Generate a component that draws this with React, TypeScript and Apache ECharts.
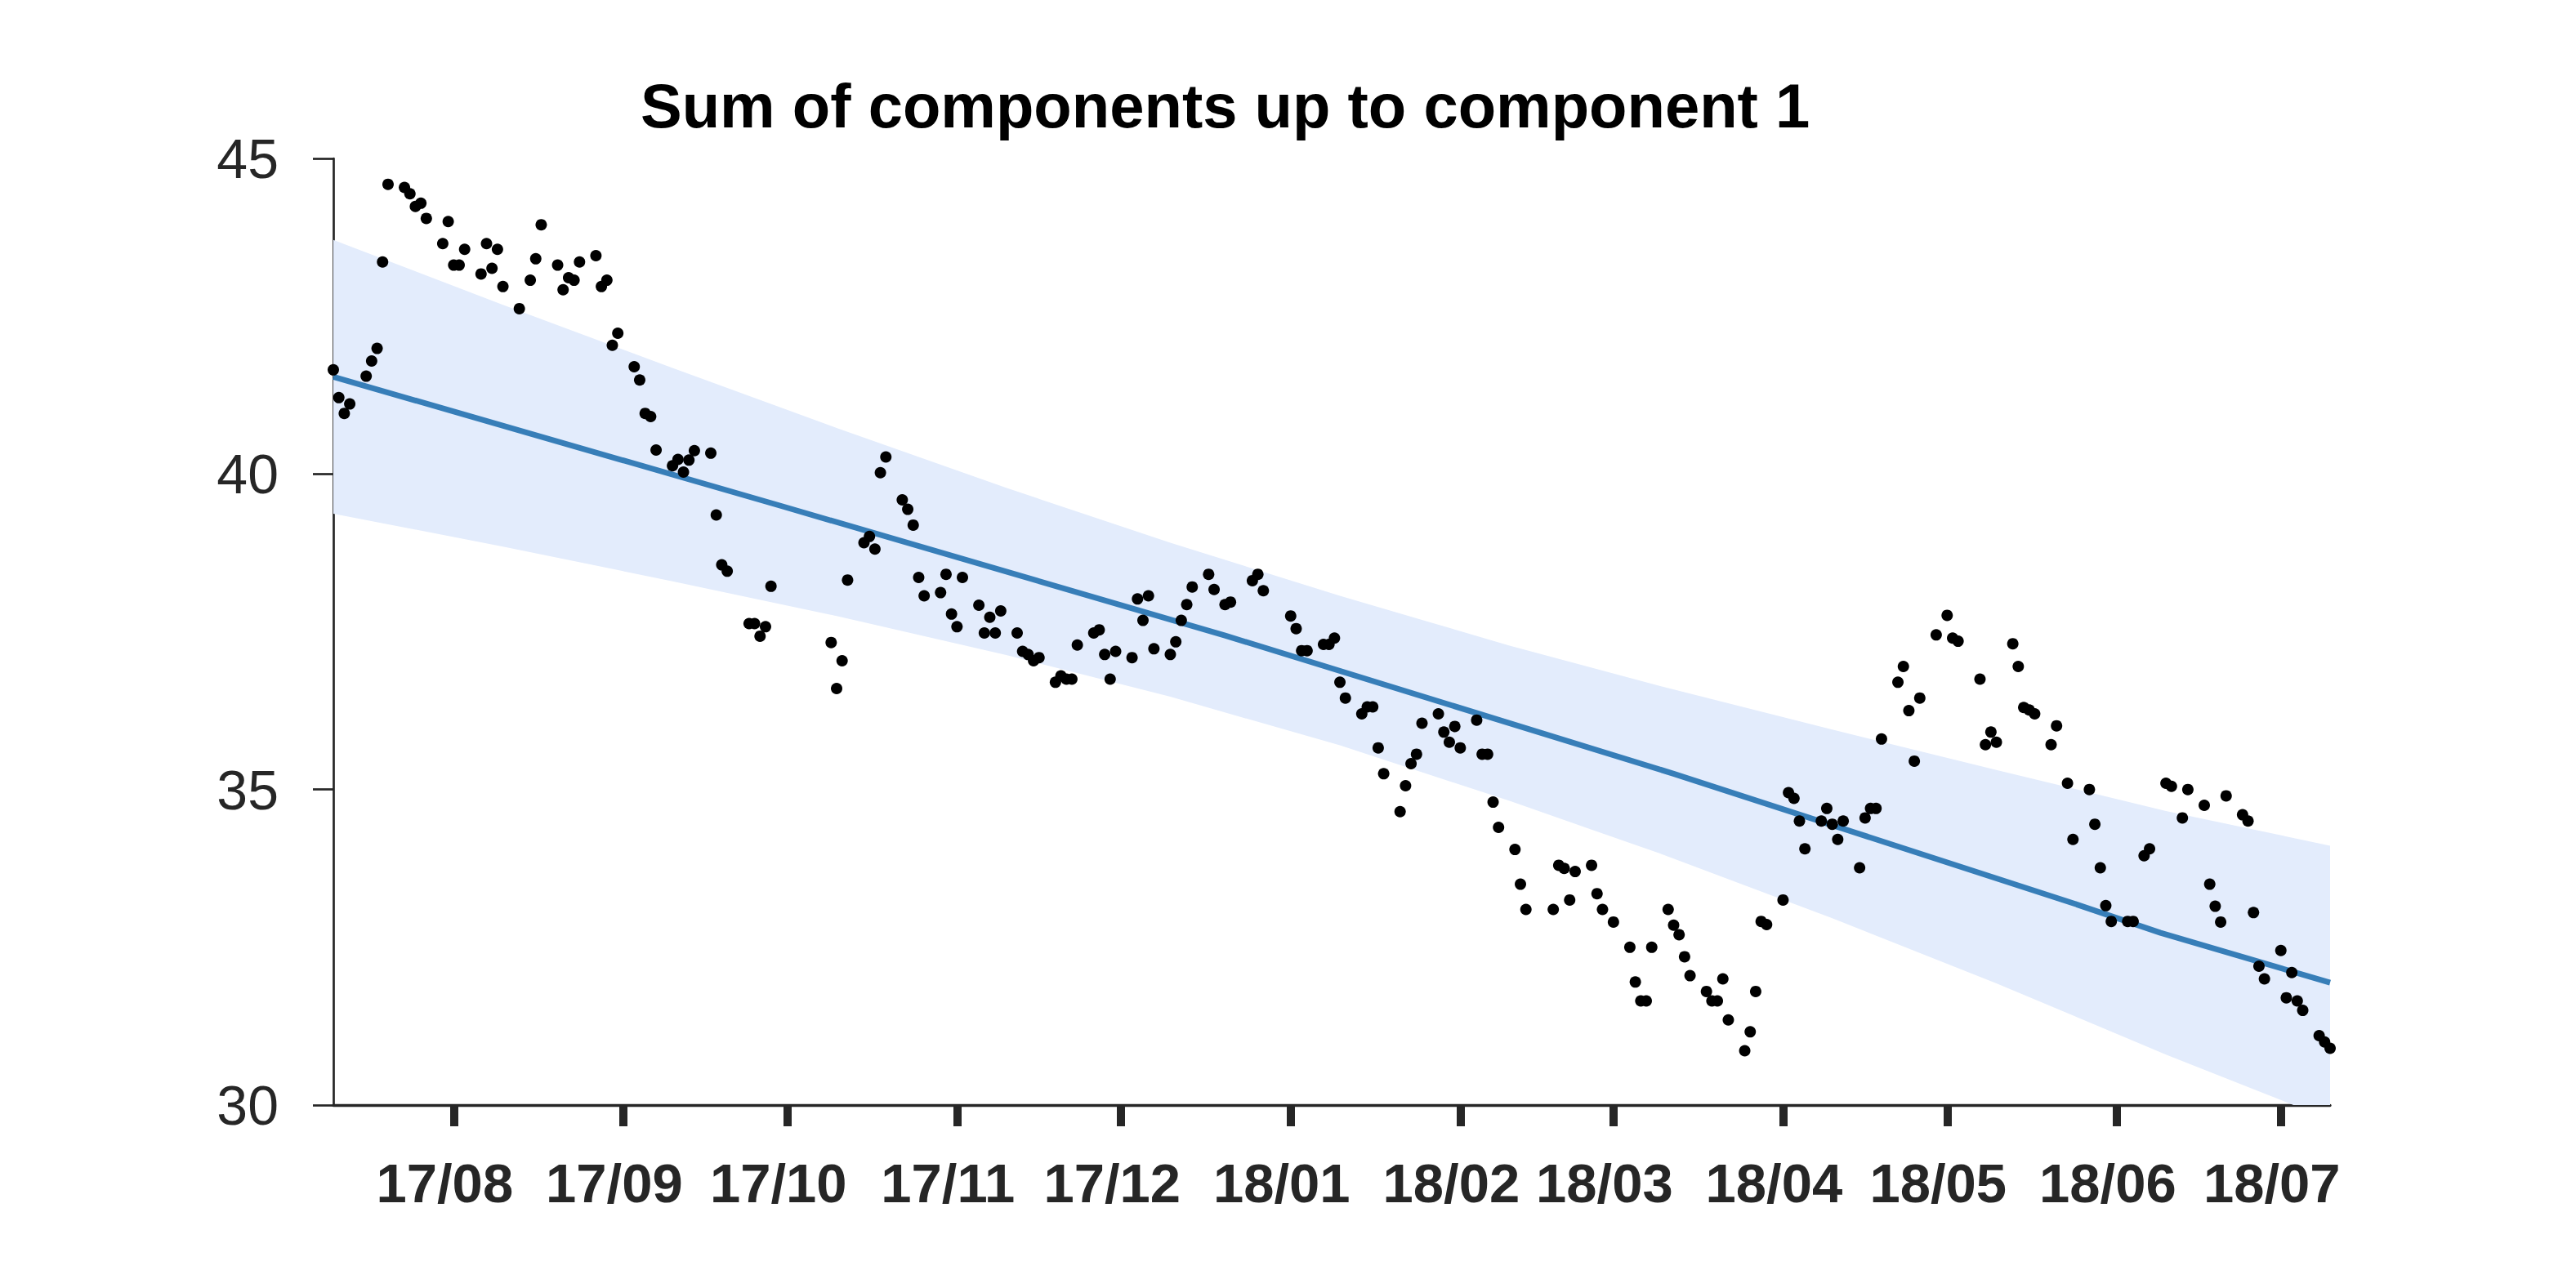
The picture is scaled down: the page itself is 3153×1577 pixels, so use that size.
import React, { useEffect, useRef } from 'react';
import * as echarts from 'echarts';

const chartTitle = 'Sum of components up to component 1';

const dates = [
  '2017-07-10','2017-07-11','2017-07-12','2017-07-13','2017-07-16','2017-07-17','2017-07-18','2017-07-19','2017-07-20',
  '2017-07-23','2017-07-24','2017-07-25','2017-07-26','2017-07-27','2017-07-30','2017-07-31','2017-08-01','2017-08-02','2017-08-03',
  '2017-08-06','2017-08-07','2017-08-08','2017-08-09','2017-08-10','2017-08-13','2017-08-15','2017-08-16','2017-08-17',
  '2017-08-20','2017-08-21','2017-08-22','2017-08-23','2017-08-24','2017-08-27','2017-08-28','2017-08-29','2017-08-30','2017-08-31',
  '2017-09-03','2017-09-04','2017-09-05','2017-09-06','2017-09-07','2017-09-10','2017-09-11','2017-09-12','2017-09-13','2017-09-14',
  '2017-09-17','2017-09-18','2017-09-19','2017-09-20','2017-09-24','2017-09-25','2017-09-26','2017-09-27','2017-09-28',
  '2017-10-09','2017-10-10','2017-10-11','2017-10-12','2017-10-15','2017-10-16','2017-10-17','2017-10-18','2017-10-19',
  '2017-10-22','2017-10-23','2017-10-24','2017-10-25','2017-10-26','2017-10-29','2017-10-30','2017-10-31','2017-11-01','2017-11-02',
  '2017-11-05','2017-11-06','2017-11-07','2017-11-08','2017-11-09','2017-11-12','2017-11-13','2017-11-14','2017-11-15','2017-11-16',
  '2017-11-19','2017-11-20','2017-11-21','2017-11-22','2017-11-23','2017-11-26','2017-11-27','2017-11-28','2017-11-29','2017-11-30',
  '2017-12-03','2017-12-04','2017-12-05','2017-12-06','2017-12-07','2017-12-10','2017-12-11','2017-12-12','2017-12-13','2017-12-14',
  '2017-12-17','2017-12-18','2017-12-20','2017-12-21','2017-12-25','2017-12-26','2017-12-27',
  '2018-01-01','2018-01-02','2018-01-03','2018-01-04','2018-01-07','2018-01-08','2018-01-09','2018-01-10','2018-01-11',
  '2018-01-14','2018-01-15','2018-01-16','2018-01-17','2018-01-18','2018-01-21','2018-01-22','2018-01-23','2018-01-24','2018-01-25',
  '2018-01-28','2018-01-29','2018-01-30','2018-01-31','2018-02-01','2018-02-04','2018-02-05','2018-02-06','2018-02-07','2018-02-08',
  '2018-02-11','2018-02-12','2018-02-13','2018-02-18','2018-02-19','2018-02-20','2018-02-21','2018-02-22',
  '2018-02-25','2018-02-26','2018-02-27','2018-03-01','2018-03-04','2018-03-05','2018-03-06','2018-03-07','2018-03-08',
  '2018-03-11','2018-03-12','2018-03-13','2018-03-14','2018-03-15','2018-03-18','2018-03-19','2018-03-20','2018-03-21','2018-03-22',
  '2018-03-25','2018-03-26','2018-03-27','2018-03-28','2018-03-29','2018-04-01','2018-04-02','2018-04-03','2018-04-04','2018-04-05',
  '2018-04-08','2018-04-09','2018-04-10','2018-04-11','2018-04-12','2018-04-15','2018-04-16','2018-04-17','2018-04-18','2018-04-19',
  '2018-04-22','2018-04-23','2018-04-24','2018-04-25','2018-04-26','2018-04-29','2018-05-01','2018-05-02','2018-05-03',
  '2018-05-07','2018-05-08','2018-05-09','2018-05-10','2018-05-13','2018-05-14','2018-05-15','2018-05-16','2018-05-17',
  '2018-05-20','2018-05-21','2018-05-23','2018-05-24','2018-05-27','2018-05-28','2018-05-29','2018-05-30','2018-05-31',
  '2018-06-03','2018-06-04','2018-06-06','2018-06-07','2018-06-10','2018-06-11','2018-06-13','2018-06-14',
  '2018-06-17','2018-06-18','2018-06-19','2018-06-20','2018-06-21','2018-06-24','2018-06-25','2018-06-26','2018-06-27','2018-06-28',
  '2018-07-01','2018-07-02','2018-07-03','2018-07-04','2018-07-05','2018-07-08','2018-07-09','2018-07-10',
];

const values = [
  41.65,41.21,40.96,41.11,41.55,41.79,41.99,43.36,44.59,
  44.54,44.44,44.24,44.29,44.05,43.65,44.00,43.31,43.31,43.56,
  43.17,43.65,43.26,43.56,42.97,42.62,43.07,43.41,43.95,
  43.31,42.92,43.11,43.07,43.36,43.46,42.97,43.07,42.04,42.23,
  41.70,41.49,40.96,40.91,40.38,40.13,40.23,40.03,40.22,40.37,
  40.33,39.35,38.56,38.46,37.63,37.63,37.43,37.58,38.22,
  37.33,36.60,37.04,38.32,38.91,39.01,38.81,40.02,40.27,
  39.59,39.44,39.19,38.36,38.07,38.12,38.41,37.78,37.58,38.36,
  37.92,37.48,37.73,37.48,37.83,37.48,37.19,37.14,37.04,37.09,
  36.70,36.80,36.75,36.75,37.29,37.48,37.53,37.14,36.75,37.19,
  37.09,38.02,37.68,38.07,37.23,37.14,37.34,37.68,37.93,38.21,
  38.41,38.17,37.93,37.97,38.31,38.41,38.15,
  37.75,37.55,37.20,37.20,37.30,37.30,37.40,36.70,36.45,
  36.20,36.31,36.31,35.66,35.25,34.65,35.06,35.41,35.56,36.05,
  36.20,35.91,35.75,36.00,35.66,36.10,35.56,35.56,34.80,34.40,
  34.05,33.50,33.10,33.10,33.80,33.75,33.25,33.70,
  33.80,33.35,33.10,32.90,32.50,31.95,31.65,31.65,32.50,
  33.10,32.85,32.70,32.35,32.05,31.80,31.65,31.65,32.00,31.35,
  30.86,31.16,31.80,32.91,32.86,33.25,34.95,34.86,34.50,34.06,
  34.50,34.70,34.45,34.21,34.50,33.76,34.55,34.70,34.70,35.80,
  36.70,36.95,36.25,35.45,36.45,37.45,37.76,37.40,37.35,
  36.75,35.71,35.91,35.75,37.31,36.95,36.30,36.26,36.20,
  35.71,36.01,35.10,34.21,35.00,34.45,33.76,33.16,32.91,
  32.91,32.91,33.95,34.06,35.10,35.05,34.55,35.00,
  34.75,33.50,33.15,32.90,34.90,34.60,34.50,33.05,32.20,32.00,
  32.45,31.70,32.10,31.65,31.50,31.10,31.00,30.90,
];

const trendDates = ['2017-07-10','2017-09-30','2017-12-20','2018-03-12','2018-05-25','2018-06-09','2018-07-10'];
const trendValues = [41.54, 39.49, 37.44, 35.25, 33.17, 32.73, 31.94];

const bandDates = ['2017-07-10','2017-08-10','2017-09-10','2017-10-10','2017-11-10','2017-12-10','2018-01-10',
  '2018-02-10','2018-03-10','2018-04-10','2018-05-10','2018-06-10','2018-07-10'];
const bandLower = [39.37, 38.85, 38.30, 37.75, 37.13, 36.47, 35.70, 34.82, 33.97, 32.96, 31.93, 30.80, 29.77];
const bandUpper = [43.71, 42.68, 41.68, 40.73, 39.78, 38.91, 38.07, 37.28, 36.63, 35.95, 35.31, 34.66, 34.11];

const tickDates = ['2017-08-01','2017-09-01','2017-10-01','2017-11-01','2017-12-01','2018-01-01',
  '2018-02-01','2018-03-01','2018-04-01','2018-05-01','2018-06-01','2018-07-01'];
const tickLabels = ['17/08','17/09','17/10','17/11','17/12','18/01','18/02','18/03','18/04','18/05','18/06','18/07'];

const xStart = '2017-07-10';
const xEnd = '2018-07-10';

const FONT = '"Liberation Sans", Arial, Helvetica, sans-serif';

const toTime = (s: string) => {
  const [y, m, d] = s.split('-').map(Number);
  return Date.UTC(y, m - 1, d);
};

export default function App() {
  const ref = useRef<HTMLDivElement>(null);

  useEffect(() => {
    if (!ref.current) return;
    const chart = echarts.init(ref.current, undefined, { renderer: 'svg' });

    const tickValues = tickDates.map(toTime);
    const labelMap = new Map<number, string>();
    tickValues.forEach((v, i) => labelMap.set(v, tickLabels[i]));

    const points = dates.map((d, i) => [toTime(d), values[i]]);
    const bandData = bandDates.map((d, i) => [toTime(d), bandLower[i], bandUpper[i]]);
    const trend = trendDates.map((d, i) => [toTime(d), trendValues[i]]);

    const option: any = {
      animation: false,
      backgroundColor: '#ffffff',
      title: {
        text: chartTitle,
        left: 784,
        top: 91,
        padding: 0,
        textStyle: { fontSize: 76, fontWeight: 'bold', color: '#000000', fontFamily: FONT },
      },
      grid: { left: 408, right: 301, top: 194, bottom: 224, containLabel: false },
      xAxis: {
        type: 'value',
        min: toTime(xStart),
        max: toTime(xEnd),
        axisLine: { show: true, lineStyle: { color: '#262626', width: 3.3 } },
        axisTick: { show: true, customValues: tickValues, length: 26, lineStyle: { color: '#262626', width: 10 } },
        axisLabel: {
          show: true,
          customValues: tickValues,
          margin: 62,
          formatter: (v: number) => labelMap.get(v) ?? '',
          fontSize: 67,
          fontWeight: 'bold',
          color: '#262626',
          fontFamily: FONT,
          padding: [0, 22, 0, 0],
        },
        splitLine: { show: false },
      },
      yAxis: {
        type: 'value',
        min: 30,
        max: 45,
        interval: 5,
        axisLine: { show: true, lineStyle: { color: '#262626', width: 2.7 } },
        axisTick: { show: true, length: 25, lineStyle: { color: '#262626', width: 2.7 } },
        axisLabel: { margin: 67, fontSize: 68, color: '#262626', fontFamily: FONT },
        splitLine: { show: false },
      },
      series: [
        {
          name: 'interval',
          type: 'custom',
          data: bandData,
          encode: { x: 0, y: [1, 2] },
          clip: true,
          silent: true,
          z: 1,
          renderItem: (params: any, api: any) => {
            if (params.dataIndex !== 0) return null;
            const upper = bandData.map((p) => api.coord([p[0], p[2]]));
            const lower = bandData.map((p) => api.coord([p[0], p[1]])).reverse();
            const cs = params.coordSys;
            return {
              type: 'polygon',
              shape: { points: upper.concat(lower) },
              style: { fill: '#E3ECFC' },
              clipPath: { type: 'rect', shape: { x: cs.x, y: cs.y, width: cs.width, height: cs.height } },
            };
          },
        },
        {
          name: 'trend',
          type: 'line',
          data: trend,
          symbol: 'none',
          lineStyle: { color: '#377EB8', width: 7 },
          z: 3,
        },
        {
          name: 'observed',
          type: 'scatter',
          data: points,
          symbolSize: 14,
          itemStyle: { color: '#000000', opacity: 1 },
          z: 4,
        },
      ],
    };

    chart.setOption(option);
    return () => chart.dispose();
  }, []);

  return (
    <div
      ref={ref}
      style={{ position: 'fixed', left: 0, top: 0, width: '3153px', height: '1577px', background: '#fff' }}
    />
  );
}
